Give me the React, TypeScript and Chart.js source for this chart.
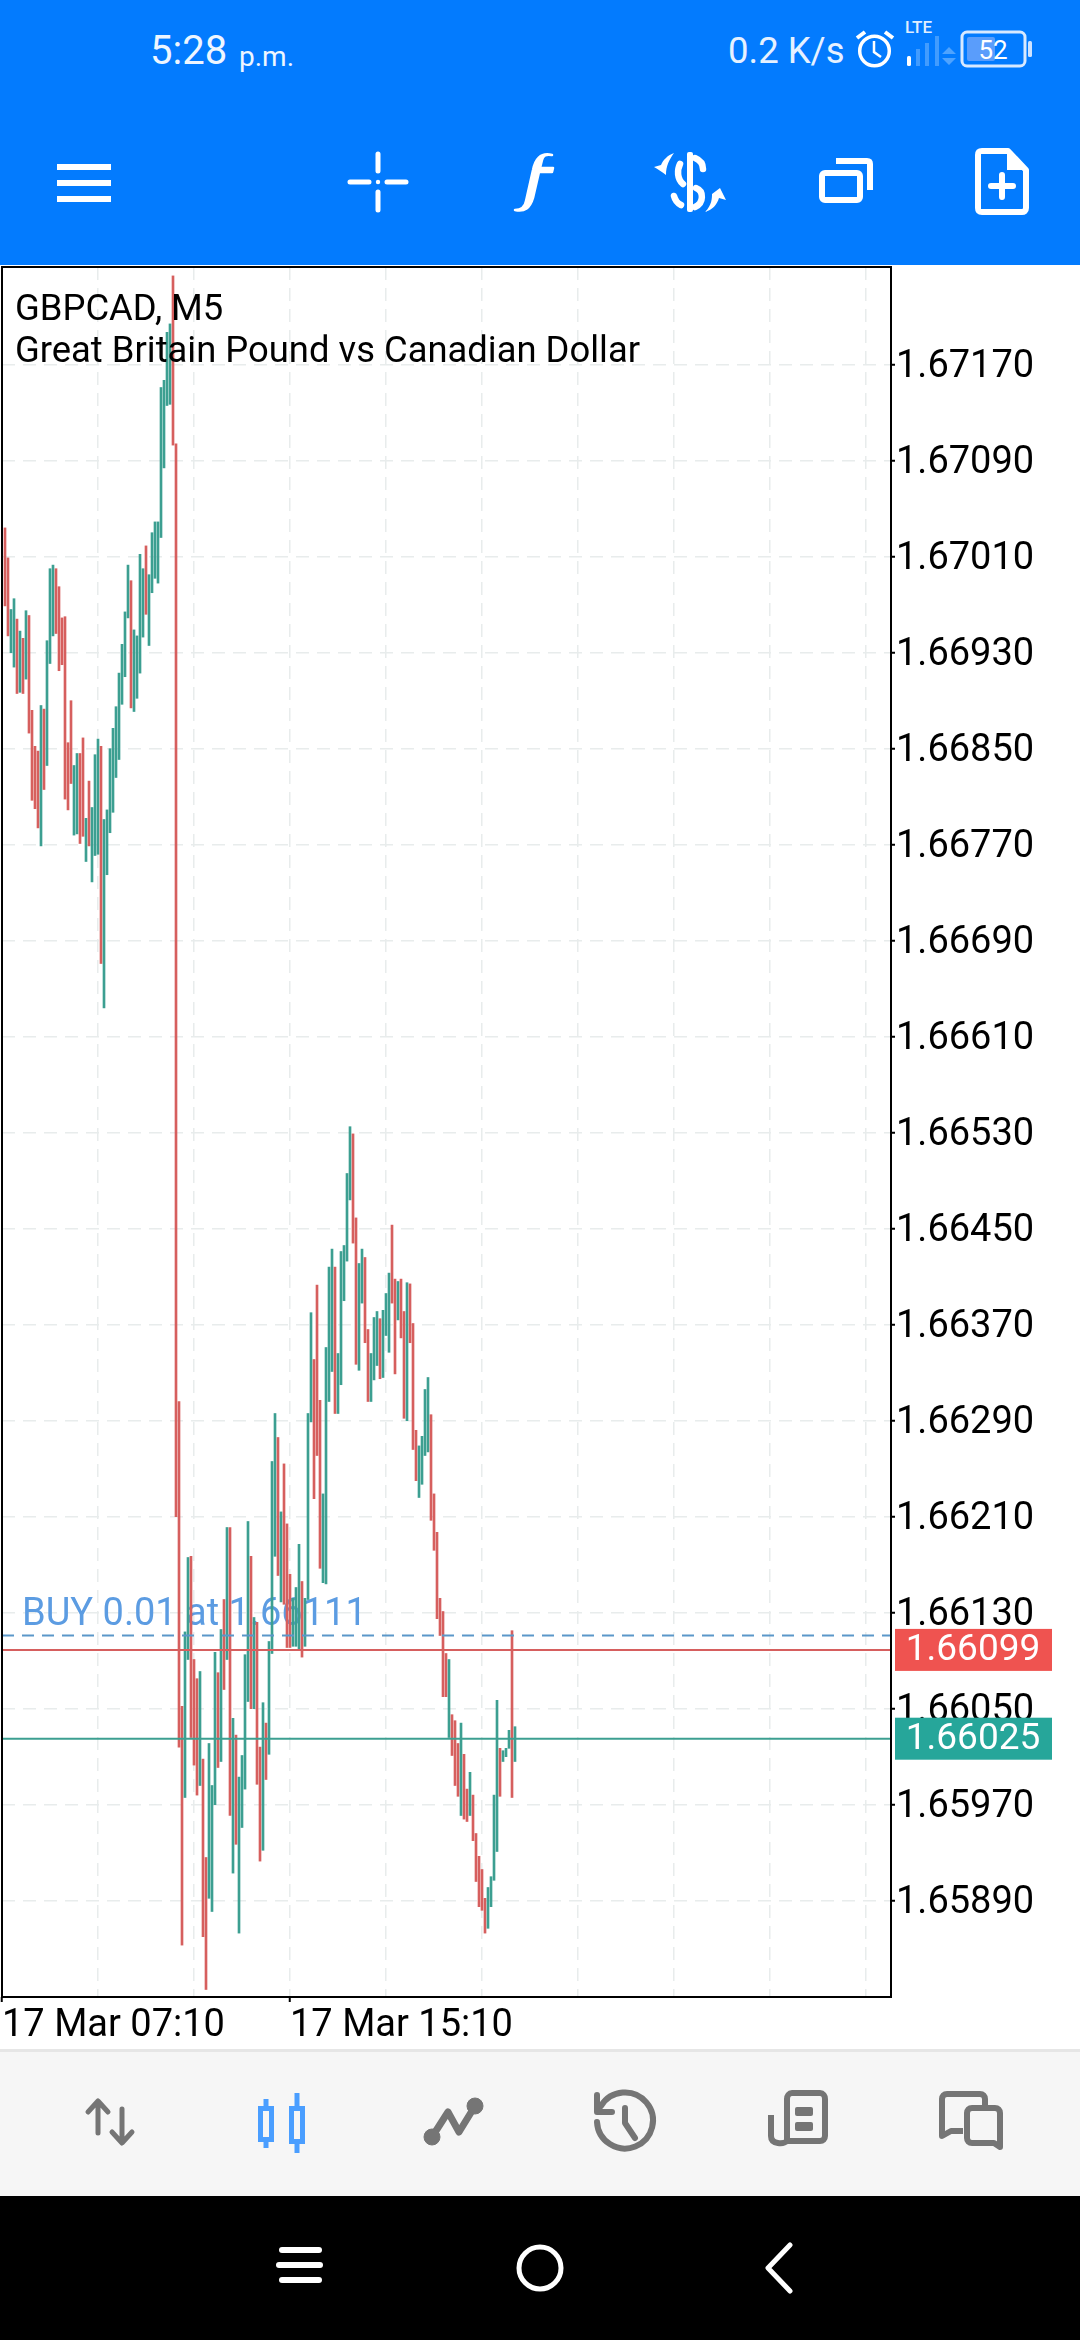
import React, { useEffect, useRef } from "react";
import { Chart, registerables } from "chart.js";

Chart.register(...registerables);

const symbolLine = "GBPCAD, M5";
const descriptionLine = "Great Britain Pound vs Canadian Dollar";
const orderLabel = "BUY 0.01 at 1.66111";
const orderPrice = 1.66111;
const bidPrice = 1.66099;
const askPrice = 1.66025;

const priceTicks = [
  1.6589, 1.6597, 1.6605, 1.6613, 1.6621, 1.6629, 1.6637, 1.6645, 1.6653, 1.6661, 1.6669, 1.6677,
  1.6685, 1.6693, 1.6701, 1.6709, 1.6717,
];
const timeLabels: Record<number, string> = { 0: "17 Mar 07:10", 96: "17 Mar 15:10" };
const timeGrid = [0, 32, 64, 96, 128, 160, 192, 224, 256, 288];

const highs = [
  1.67034, 1.67009, 1.66966, 1.66975, 1.66958, 1.66948, 1.66942, 1.66965, 1.66961, 1.66882,
  1.66852, 1.66848, 1.66886, 1.66883, 1.6694, 1.67, 1.67003, 1.67, 1.66985, 1.66959,
  1.6696, 1.66855, 1.6689, 1.66836, 1.66846, 1.66846, 1.66859, 1.66792, 1.66823, 1.66801,
  1.66845, 1.66858, 1.66852, 1.66791, 1.66799, 1.6685, 1.66867, 1.66885, 1.66913, 1.66937,
  1.66964, 1.67003, 1.6699, 1.66949, 1.66944, 1.67012, 1.67, 1.67019, 1.66995, 1.6703,
  1.67039, 1.67039, 1.67151, 1.67157, 1.67197, 1.67204, 1.67244, 1.67104, 1.66306, 1.66052,
  1.66114, 1.66176, 1.66177, 1.66091, 1.66075, 1.66081, 1.66008, 1.65926, 1.66021, 1.65986,
  1.66097, 1.6608, 1.66116, 1.66141, 1.66201, 1.66201, 1.66042, 1.66028, 1.65993, 1.66011,
  1.66095, 1.66206, 1.66177, 1.66126, 1.66122, 1.66018, 1.66055, 1.66038, 1.66106, 1.66256,
  1.66296, 1.66276, 1.66214, 1.66254, 1.66204, 1.66162, 1.66142, 1.66151, 1.66187, 1.66156,
  1.66142, 1.66296, 1.6638, 1.66341, 1.66403, 1.66307, 1.66229, 1.66351, 1.66418, 1.66433,
  1.66418, 1.66346, 1.66431, 1.66436, 1.66496, 1.66535, 1.66529, 1.66459, 1.66421, 1.66433,
  1.66426, 1.66366, 1.66346, 1.66376, 1.66381, 1.66375, 1.66382, 1.66396, 1.66413, 1.66453,
  1.66408, 1.66406, 1.66408, 1.66381, 1.66405, 1.66404, 1.66371, 1.66282, 1.66269, 1.66277,
  1.66316, 1.66326, 1.66295, 1.66229, 1.66197, 1.66142, 1.66131, 1.66096, 1.66091, 1.66045,
  1.6604, 1.66021, 1.66038, 1.66012, 1.65983, 1.65997, 1.65978, 1.65946, 1.65927, 1.65916,
  1.65892, 1.65901, 1.6591, 1.65978, 1.66057, 1.66017, 1.66015, 1.66017, 1.66032, 1.66115,
  1.66035,
];

const lows = [
  1.66969, 1.66944, 1.6693, 1.66918, 1.66896, 1.66897, 1.66896, 1.66908, 1.66863, 1.66807,
  1.668, 1.66784, 1.66769, 1.66816, 1.66836, 1.66921, 1.66944, 1.66946, 1.66915, 1.6692,
  1.66808, 1.66799, 1.66821, 1.66778, 1.66779, 1.66771, 1.66777, 1.66756, 1.66769, 1.66739,
  1.66761, 1.66762, 1.66671, 1.66634, 1.66745, 1.6678, 1.66797, 1.66826, 1.66841, 1.66887,
  1.6691, 1.66959, 1.66884, 1.66881, 1.66892, 1.66913, 1.66943, 1.66962, 1.66936, 1.6698,
  1.66992, 1.66988, 1.67026, 1.67084, 1.67136, 1.67137, 1.67103, 1.6621, 1.66018, 1.65853,
  1.65976, 1.66091, 1.66026, 1.66003, 1.65978, 1.65986, 1.6586, 1.65816, 1.65892, 1.65881,
  1.6597, 1.66001, 1.66006, 1.66066, 1.66091, 1.65961, 1.65913, 1.65937, 1.65863, 1.65951,
  1.65983, 1.66056, 1.6605, 1.6605, 1.65987, 1.65923, 1.65932, 1.65991, 1.66012, 1.66096,
  1.66177, 1.66161, 1.66139, 1.66137, 1.66101, 1.66101, 1.66102, 1.66102, 1.661, 1.66093,
  1.66102, 1.66141, 1.66289, 1.66225, 1.66261, 1.66167, 1.66155, 1.66154, 1.66306, 1.66331,
  1.66296, 1.66296, 1.6632, 1.6639, 1.66423, 1.66474, 1.66438, 1.66337, 1.66332, 1.66388,
  1.66355, 1.66306, 1.66306, 1.66324, 1.66336, 1.66325, 1.66326, 1.66361, 1.66347, 1.66388,
  1.66329, 1.66374, 1.66359, 1.66292, 1.6629, 1.66355, 1.66266, 1.6624, 1.66226, 1.66237,
  1.66261, 1.66264, 1.66207, 1.66182, 1.66125, 1.66111, 1.6606, 1.6606, 1.66026, 1.66011,
  1.65986, 1.65977, 1.65961, 1.65958, 1.65956, 1.65961, 1.6594, 1.65906, 1.65885, 1.65882,
  1.65863, 1.65867, 1.65885, 1.65907, 1.65931, 1.65977, 1.66006, 1.6601, 1.66017, 1.65976,
  1.66006,
];

const directions = (
  "d d u u d u d u d d " +
  "d d u d u u u d d d " +
  "d d d u u d d u d u " +
  "u u d u u u u u u u " +
  "u u d u u u u d u u " +
  "u u u u u u d d d d " +
  "u u d d d u d d u u " +
  "u d u d u d u d u u " +
  "u u d u d d u d u u " +
  "u d u d d d u u u d " +
  "u u u d d d u u u u " +
  "d u u u u u d d u u " +
  "d d u u u d u u u d " +
  "d u d d u d d d u u " +
  "u u d d d d d d u d " +
  "d d u d d u d d d d " +
  "d u u u u d u u u d " +
  "u"
).split(" ");

const X_MAX = 296.33;
const RED = "#d65f5e";
const GREEN = "#3c9f91";
const GRID = "#e8ecec";
const FONT = "Roboto";

const pricePlugin = {
  id: "pricePlugin",
  beforeDatasetsDraw(chart: any) {
    const { ctx, chartArea, scales } = chart;
    ctx.save();
    ctx.font = `38px ${FONT}`;
    ctx.textBaseline = "alphabetic";
    ctx.textAlign = "left";
    ctx.fillStyle = "#5c9ce2";
    ctx.fillText(orderLabel, chartArea.left + 20, scales.y.getPixelForValue(orderPrice) - 11);
    ctx.restore();
  },
  afterDraw(chart: any) {
    const { ctx, chartArea, scales } = chart;
    ctx.save();
    ctx.strokeStyle = "#000";
    ctx.lineWidth = 2;
    ctx.strokeRect(chartArea.left, chartArea.top, chartArea.right - chartArea.left, chartArea.bottom - chartArea.top);
    ctx.font = `36.4px ${FONT}`;
    ctx.textBaseline = "alphabetic";
    ctx.textAlign = "left";
    ctx.fillStyle = "#000";
    ctx.fillText(symbolLine, 15, chartArea.top + 53);
    ctx.fillText(descriptionLine, 15, chartArea.top + 95);
    ctx.font = `37px ${FONT}`;
    const box = (price: number, color: string) => {
      const y = scales.y.getPixelForValue(price);
      ctx.fillStyle = color;
      ctx.fillRect(895, y - 21, 157, 42);
      ctx.fillStyle = "#fff";
      ctx.textAlign = "center";
      ctx.textBaseline = "middle";
      ctx.fillText(price.toFixed(5), 973, y + 1);
    };
    box(bidPrice, "#ef5350");
    box(askPrice, "#26a69a");
    ctx.restore();
  },
};

function Candles() {
  const ref = useRef<HTMLCanvasElement>(null);
  useEffect(() => {
    const chart = new Chart(ref.current as HTMLCanvasElement, {
      type: "bar",
      plugins: [pricePlugin],
      data: {
        datasets: [
          {
            type: "line",
            data: [{ x: 0, y: bidPrice }, { x: X_MAX, y: bidPrice }],
            borderColor: RED,
            borderWidth: 2,
            pointRadius: 0,
            order: 0,
          },
          {
            type: "line",
            data: [{ x: 0, y: askPrice }, { x: X_MAX, y: askPrice }],
            borderColor: GREEN,
            borderWidth: 2,
            pointRadius: 0,
            order: 0,
          },
          {
            type: "line",
            data: [{ x: 0, y: orderPrice }, { x: X_MAX, y: orderPrice }],
            borderColor: "#5b97c9",
            borderWidth: 2,
            borderDash: [12, 8],
            pointRadius: 0,
            order: 0,
          },
          {
            type: "bar",
            data: highs.map((h, i) => ({ x: i + 1, y: [lows[i], h] })),
            backgroundColor: directions.map((d) => (d === "u" ? GREEN : RED)),
            barThickness: 2,
            order: 1,
          },
        ] as any,
      },
      options: {
        animation: false,
        responsive: false,
        devicePixelRatio: 1,
        layout: { padding: { left: 2, top: 1, right: 0, bottom: 0 } },
        plugins: { legend: { display: false }, tooltip: { enabled: false }, title: { display: false } },
        scales: {
          x: {
            type: "linear",
            min: 0,
            max: X_MAX,
            offset: false,
            afterBuildTicks(axis: any) {
              axis.ticks = timeGrid.map((value) => ({ value }));
            },
            afterFit(axis: any) {
              axis.height = 52;
              axis.paddingLeft = 0;
              axis.paddingRight = 0;
            },
            grid: {
              offset: false,
              color: GRID,
              lineWidth: 1.5,
              tickLength: 5,
              tickWidth: 2,
              tickColor: (c: any) => (timeLabels[c.tick?.value] ? "#000" : "rgba(0,0,0,0)"),
              tickBorderDash: [],
            },
            border: { display: false, dash: [13, 8] },
            ticks: {
              autoSkip: false,
              maxRotation: 0,
              align: "start",
              padding: 2,
              color: "#000",
              font: { family: FONT, size: 38 },
              callback: (v: any) => timeLabels[v] ?? "",
            },
          },
          y: {
            type: "linear",
            position: "right",
            min: 1.6580975,
            max: 1.6725142,
            afterBuildTicks(axis: any) {
              axis.ticks = priceTicks.map((value) => ({ value }));
            },
            afterFit(axis: any) {
              axis.width = 189;
              axis.paddingTop = 0;
              axis.paddingBottom = 0;
            },
            grid: {
              color: GRID,
              lineWidth: 1.5,
              tickLength: 4,
              tickWidth: 2,
              tickColor: "#000",
              tickBorderDash: [],
            },
            border: { display: false, dash: [13, 8] },
            ticks: {
              autoSkip: false,
              padding: 1,
              labelOffset: 3,
              color: "#000",
              font: { family: FONT, size: 38 },
              callback: (v: any) => Number(v).toFixed(5),
            },
          },
        },
      } as any,
    });
    return () => chart.destroy();
  }, []);
  return (
    <canvas
      ref={ref}
      width={1080}
      height={1783}
      style={{ position: "absolute", left: 0, top: 266, width: 1080, height: 1783 }}
    />
  );
}

const abs = (left: number, top: number, extra: React.CSSProperties = {}): React.CSSProperties => ({
  position: "absolute",
  left,
  top,
  fontFamily: FONT,
  whiteSpace: "nowrap",
  lineHeight: 1,
  ...extra,
});

function TopBar() {
  return (
    <div style={abs(0, 0, { width: 1080, height: 265, background: "#037bfe", color: "#fff" })}>
      <div style={abs(150, 31, { fontSize: 40, color: "#eef6ff" })}>5:28</div>
      <div style={abs(239, 43, { fontSize: 28, color: "#eef6ff" })}>p.m.</div>
      <div style={abs(728, 33, { fontSize: 36.5, color: "#e6f1ff" })}>0.2 K/s</div>
      <div style={abs(905, 19, { fontSize: 17, fontWeight: 500, color: "#dfeeff" })}>LTE</div>
      <svg width={1080} height={265} style={{ position: "absolute", left: 0, top: 0 }}>
        {/* alarm */}
        <g fill="none" stroke="#fff" strokeWidth={3.5}>
          <circle cx={874.5} cy={51} r={14.8} />
          <path d="M874 41v11l7 5" strokeWidth={2.5} />
          <path d="M857 38l8-6M885 32l8 6" strokeWidth={4} />
        </g>
        {/* signal */}
        <rect x={907} y={56} width={4} height={10} rx={1.5} fill="#fff" />
        <rect x={916} y={49} width={4} height={17} fill="#fff" opacity={0.25} />
        <rect x={925} y={43} width={4} height={23} fill="#fff" opacity={0.25} />
        <rect x={935} y={36} width={4} height={30} fill="#fff" opacity={0.25} />
        <path d="M942 55l7-7 7 7zM942 59l7 7 7-7z" fill="#fff" opacity={0.3} transform="translate(0,-1)" />
        {/* battery */}
        <rect x={962} y={32} width={63} height={34} rx={5} fill="none" stroke="#d8e9ff" strokeWidth={3} />
        <rect x={967} y={37} width={28} height={24} rx={2} fill="#5a9dfb" />
        <rect x={1028} y={41} width={4} height={16} rx={1.5} fill="#cfe3ff" />
        <text x={993} y={59} textAnchor="middle" fontFamily={FONT} fontSize={26} fill="#fff">52</text>
        {/* menu */}
        <g fill="#fff">
          <rect x={57} y={164} width={54} height={6} />
          <rect x={57} y={180} width={54} height={6} />
          <rect x={57} y={196} width={54} height={6} />
        </g>
        {/* crosshair */}
        <g stroke="#fff" strokeWidth={5} strokeLinecap="round">
          <path d="M378 154v17M378 192v18M350 182h19M387 182h19" />
        </g>
        <circle cx={378} cy={182} r={2.2} fill="#fff" />
        {/* function */}
        <path
          d="M552 155c-12-3-17 5-19 15l-7 31c-1 6-5 9-11 9 10 2 15-2 18-12l6-26h13l1-4h-13l2-8c1-5 4-6 10-5z"
          fill="#fff"
          stroke="#fff"
          strokeWidth={2.5}
          strokeLinejoin="round"
        />
        {/* dollar */}
        <rect x={687} y={152} width={6} height={60} rx={2} fill="#fff" />
        <g fill="none" stroke="#fff" strokeWidth={6.5} strokeLinecap="round">
          <path d="M695 158c5 2 8 6 8 11" />
          <path d="M680 164c-3 6-3 15 3 20" />
          <path d="M674 196c1 4 3 7 7 9" />
          <path d="M696 188c8 3 8 15-1 19" />
        </g>
        <path d="M654 167l7-2c2-5 7-10 13-12-5 7-8 13-8 22-4-3-8-6-12-8z" fill="#fff" />
        <path d="M705 212c7-7 7-14 7-18l8-6 6 12-7-2c-2 7-7 12-14 14z" fill="#fff" />
        {/* windows */}
        <g fill="none" stroke="#fff" strokeWidth={6} strokeLinejoin="round">
          <rect x={822} y={173} width={38} height={27} rx={3} />
          <path d="M836 161h31c2 0 3 1 3 3v26" />
        </g>
        {/* new doc */}
        <path
          d="M982 151h26l18 19v38c0 3-2 4-4 4h-40c-3 0-4-1-4-4v-53c0-3 1-4 4-4z"
          fill="none"
          stroke="#fff"
          strokeWidth={6}
          strokeLinejoin="round"
        />
        <path d="M1007 150l19 20h-19z" fill="#fff" />
        <path d="M1002 175v22M991 186h22" stroke="#fff" strokeWidth={6} strokeLinecap="round" />
      </svg>
    </div>
  );
}

function BottomBar() {
  const g = "#757575";
  return (
    <div style={abs(0, 2049, { width: 1080, height: 291, background: "#f6f6f6", borderTop: "3px solid #e6e6e6", boxSizing: "border-box" })}>
      <svg width={1080} height={291} style={{ position: "absolute", left: 0, top: -3 }}>
        {/* trade arrows */}
        <g stroke={g} strokeWidth={5} fill="none" strokeLinecap="round" strokeLinejoin="round">
          <path d="M98 54v30M88 63l10-11 10 11" />
          <path d="M122 60v32M112 83l10 11 10-11" />
        </g>
        {/* quotes candles */}
        <g stroke="#4a9eff" strokeWidth={5} fill="none">
          <path d="M266 50v10M266 90v9M297 44v16M297 92v12" />
          <rect x={260.5} y={59.5} width={11} height={31} />
          <rect x={291.5} y={59.5} width={11} height={33} />
        </g>
        {/* line chart */}
        <g fill={g} stroke={g}>
          <path d="M432 88L448 63l11 20 16-26" strokeWidth={7} fill="none" strokeLinejoin="round" />
          <circle cx={432} cy={88} r={8} />
          <circle cx={475} cy={57} r={8} />
        </g>
        {/* history */}
        <g stroke={g} strokeWidth={6} fill="none" strokeLinecap="round" strokeLinejoin="round">
          <path d="M601 57A28 28 0 1 1 597 73" />
          <path d="M597 46v17h15" />
          <path d="M625 59v15l10 15" />
        </g>
        {/* journal */}
        <g stroke={g} strokeWidth={6} fill="none" strokeLinejoin="round">
          <path d="M787 92h33c3 0 5-2 5-5V50c0-3-2-6-5-6h-28c-3 0-5 3-5 6v42c-3 3-16 4-16-5V66" />
        </g>
        <rect x={795} y={58} width={18} height={9} rx={2} fill={g} />
        <rect x={795} y={73} width={18} height={9} rx={2} fill={g} />
        {/* chat */}
        <g stroke={g} strokeWidth={6} fill="none" strokeLinejoin="round">
          <path d="M985 58v-8c0-3-2-5-5-5h-33c-3 0-5 2-5 5v37l9-5h12" />
          <path d="M972 59h23c3 0 5 2 5 5v34l-6-4h-22c-3 0-5-2-5-5V64c0-3 2-5 5-5z" />
        </g>
      </svg>
      <div style={abs(0, 144, { width: 1080, height: 144, background: "#000" })}>
        <svg width={1080} height={144} style={{ position: "absolute", left: 0, top: 0 }}>
          <g fill="#fff">
            <rect x={279} y={51} width={43} height={6} rx={3} />
            <rect x={276} y={66} width={47} height={6} rx={3} />
            <rect x={279} y={81} width={43} height={6} rx={3} />
          </g>
          <circle cx={540} cy={72} r={21} fill="none" stroke="#fff" strokeWidth={5} />
          <path d="M790 49L768 72l22 23" fill="none" stroke="#fff" strokeWidth={5} strokeLinecap="round" strokeLinejoin="round" />
        </svg>
      </div>
    </div>
  );
}

export default function App() {
  return (
    <div style={{ position: "absolute", left: 0, top: 0, width: 1080, height: 2340, background: "#fff", overflow: "hidden" }}>
      <TopBar />
      <Candles />
      <BottomBar />
    </div>
  );
}
